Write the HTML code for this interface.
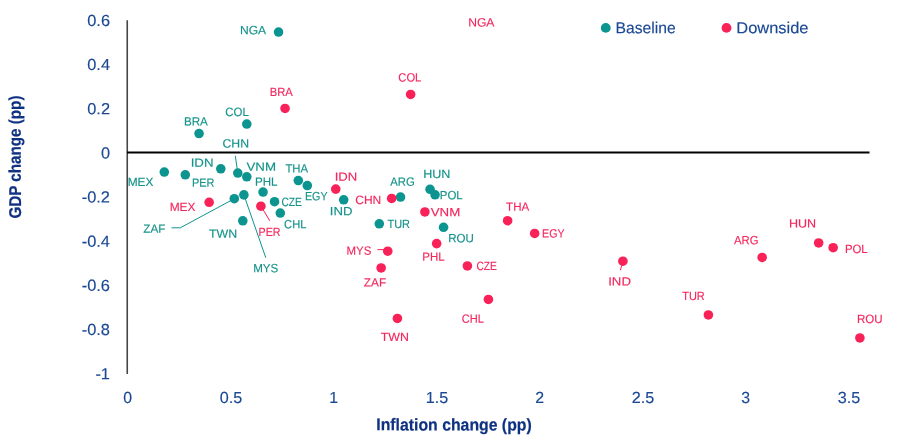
<!DOCTYPE html>
<html lang="en">
<head>
<meta charset="utf-8">
<title>GDP change vs Inflation change</title>
<style>
html,body{margin:0;padding:0;background:#fff;}
body{width:907px;height:448px;overflow:hidden;}
svg{display:block;font-family:"Liberation Sans",sans-serif;}
.lb{font-size:12.0px;stroke-width:0.15px;}
.tk{font-size:16.0px;fill:#1A4893;stroke:#1A4893;stroke-width:0.15px;}
.ti{font-size:17px;font-weight:bold;fill:#0E3181;stroke:#0E3181;stroke-width:0.2px;}
.lg{font-size:16px;fill:#1A4893;stroke:#1A4893;stroke-width:0.15px;}
</style>
</head>
<body>
<svg width="907" height="448" viewBox="0 0 907 448">
<rect width="907" height="448" fill="#ffffff"/>

<line x1="127.25" y1="20.2" x2="127.25" y2="373.9" stroke="#454545" stroke-width="1.6"/>
<line x1="127" y1="152.45" x2="869.5" y2="152.45" stroke="#000" stroke-width="1.9"/>
<text class="tk" x="87.25" y="25.92" textLength="22.75" lengthAdjust="spacingAndGlyphs" transform="rotate(0.06 98.6 21.9)">0.6</text>
<text class="tk" x="87.25" y="70.08" textLength="22.75" lengthAdjust="spacingAndGlyphs" transform="rotate(0.06 98.6 66.1)">0.4</text>
<text class="tk" x="87.25" y="114.24" textLength="22.75" lengthAdjust="spacingAndGlyphs" transform="rotate(0.06 98.6 110.2)">0.2</text>
<text class="tk" x="100.90" y="158.40" textLength="9.10" lengthAdjust="spacingAndGlyphs" transform="rotate(0.06 105.5 154.4)">0</text>
<text class="tk" x="81.75" y="202.56" textLength="28.25" lengthAdjust="spacingAndGlyphs" transform="rotate(0.06 95.9 198.6)">-0.2</text>
<text class="tk" x="81.75" y="246.72" textLength="28.25" lengthAdjust="spacingAndGlyphs" transform="rotate(0.06 95.9 242.7)">-0.4</text>
<text class="tk" x="81.75" y="290.88" textLength="28.25" lengthAdjust="spacingAndGlyphs" transform="rotate(0.06 95.9 286.9)">-0.6</text>
<text class="tk" x="81.75" y="335.04" textLength="28.25" lengthAdjust="spacingAndGlyphs" transform="rotate(0.06 95.9 331.0)">-0.8</text>
<text class="tk" x="95.40" y="379.20" textLength="14.60" lengthAdjust="spacingAndGlyphs" transform="rotate(0.06 102.7 375.2)">-1</text>
<text class="tk" x="123.30" y="403.10" textLength="8.80" lengthAdjust="spacingAndGlyphs" transform="rotate(0.06 127.7 399.1)">0</text>
<text class="tk" x="219.78" y="403.10" textLength="22.45" lengthAdjust="spacingAndGlyphs" transform="rotate(0.06 231.0 399.1)">0.5</text>
<text class="tk" x="329.30" y="403.10" textLength="8.80" lengthAdjust="spacingAndGlyphs" transform="rotate(0.06 333.7 399.1)">1</text>
<text class="tk" x="425.77" y="403.10" textLength="22.45" lengthAdjust="spacingAndGlyphs" transform="rotate(0.06 437.0 399.1)">1.5</text>
<text class="tk" x="535.30" y="403.10" textLength="8.80" lengthAdjust="spacingAndGlyphs" transform="rotate(0.06 539.7 399.1)">2</text>
<text class="tk" x="631.77" y="403.10" textLength="22.45" lengthAdjust="spacingAndGlyphs" transform="rotate(0.06 643.0 399.1)">2.5</text>
<text class="tk" x="741.30" y="403.10" textLength="8.80" lengthAdjust="spacingAndGlyphs" transform="rotate(0.06 745.7 399.1)">3</text>
<text class="tk" x="837.77" y="403.10" textLength="22.45" lengthAdjust="spacingAndGlyphs" transform="rotate(0.06 849.0 399.1)">3.5</text>
<text class="ti" x="376.32" y="430.45" textLength="155.39" lengthAdjust="spacingAndGlyphs" transform="rotate(0.06 454.0 426.4)">Inflation change (pp)</text>
<text class="ti" transform="translate(20.9,218.50) rotate(-90.06)" x="-0.09" y="0" textLength="123.03" lengthAdjust="spacingAndGlyphs">GDP change (pp)</text>
<circle cx="605.75" cy="27.9" r="4.9" fill="#0C9590"/>
<text class="lg" x="615.60" y="33.30" textLength="60.04" lengthAdjust="spacingAndGlyphs" transform="rotate(0.06 645.6 29.3)">Baseline</text>
<circle cx="726.5" cy="27.9" r="4.9" fill="#F82158"/>
<text class="lg" x="736.33" y="33.30" textLength="72.18" lengthAdjust="spacingAndGlyphs" transform="rotate(0.06 772.4 29.3)">Downside</text>
<path d="M171.55 227.80 L180.30 227.80 L234.30 198.70" fill="none" stroke="#0C9590" stroke-width="1.0"/>
<path d="M243.90 194.90 L265.80 257.80" fill="none" stroke="#0C9590" stroke-width="1.0"/>
<path d="M235.30 155.80 L237.80 173.05" fill="none" stroke="#0C9590" stroke-width="1.0"/>
<path d="M261.05 206.30 L269.80 220.80" fill="none" stroke="#F82158" stroke-width="1.0"/>
<path d="M377.50 249.65 L385.30 249.65" fill="none" stroke="#F82158" stroke-width="1.0"/>
<path d="M623.05 261.30 L620.30 270.30" fill="none" stroke="#F82158" stroke-width="1.0"/>
<circle cx="278.55" cy="32.05" r="4.80" fill="#0C9590"/>
<circle cx="199.05" cy="133.55" r="4.80" fill="#0C9590"/>
<circle cx="246.80" cy="124.05" r="4.80" fill="#0C9590"/>
<circle cx="164.30" cy="172.05" r="4.80" fill="#0C9590"/>
<circle cx="185.30" cy="174.80" r="4.80" fill="#0C9590"/>
<circle cx="220.80" cy="168.80" r="4.80" fill="#0C9590"/>
<circle cx="237.80" cy="173.05" r="4.80" fill="#0C9590"/>
<circle cx="246.80" cy="176.80" r="4.80" fill="#0C9590"/>
<circle cx="298.30" cy="180.55" r="4.80" fill="#0C9590"/>
<circle cx="307.30" cy="185.55" r="4.80" fill="#0C9590"/>
<circle cx="263.05" cy="192.05" r="4.80" fill="#0C9590"/>
<circle cx="243.90" cy="194.90" r="4.80" fill="#0C9590"/>
<circle cx="234.30" cy="198.70" r="4.80" fill="#0C9590"/>
<circle cx="274.55" cy="201.70" r="4.80" fill="#0C9590"/>
<circle cx="280.30" cy="213.05" r="4.80" fill="#0C9590"/>
<circle cx="242.80" cy="220.80" r="4.80" fill="#0C9590"/>
<circle cx="343.70" cy="199.80" r="4.80" fill="#0C9590"/>
<circle cx="400.55" cy="197.05" r="4.80" fill="#0C9590"/>
<circle cx="430.05" cy="189.30" r="4.80" fill="#0C9590"/>
<circle cx="435.05" cy="194.80" r="4.80" fill="#0C9590"/>
<circle cx="379.30" cy="223.80" r="4.80" fill="#0C9590"/>
<circle cx="443.55" cy="227.30" r="4.80" fill="#0C9590"/>
<circle cx="285.05" cy="108.45" r="4.80" fill="#F82158"/>
<circle cx="410.65" cy="94.45" r="4.80" fill="#F82158"/>
<circle cx="209.15" cy="202.30" r="4.80" fill="#F82158"/>
<circle cx="260.90" cy="206.20" r="4.80" fill="#F82158"/>
<circle cx="335.75" cy="189.10" r="4.80" fill="#F82158"/>
<circle cx="391.65" cy="198.45" r="4.80" fill="#F82158"/>
<circle cx="424.90" cy="211.95" r="4.80" fill="#F82158"/>
<circle cx="507.65" cy="220.70" r="4.80" fill="#F82158"/>
<circle cx="387.75" cy="251.20" r="4.80" fill="#F82158"/>
<circle cx="381.15" cy="267.95" r="4.80" fill="#F82158"/>
<circle cx="436.65" cy="243.60" r="4.80" fill="#F82158"/>
<circle cx="467.40" cy="265.95" r="4.80" fill="#F82158"/>
<circle cx="488.40" cy="299.45" r="4.80" fill="#F82158"/>
<circle cx="397.40" cy="318.45" r="4.80" fill="#F82158"/>
<circle cx="534.65" cy="233.45" r="4.80" fill="#F82158"/>
<circle cx="622.90" cy="261.20" r="4.80" fill="#F82158"/>
<circle cx="762.15" cy="257.45" r="4.80" fill="#F82158"/>
<circle cx="818.65" cy="242.95" r="4.80" fill="#F82158"/>
<circle cx="833.15" cy="247.70" r="4.80" fill="#F82158"/>
<circle cx="708.40" cy="314.95" r="4.80" fill="#F82158"/>
<circle cx="859.90" cy="337.95" r="4.80" fill="#F82158"/>
<text class="lb" x="239.94" y="34.20" textLength="26.25" lengthAdjust="spacingAndGlyphs" transform="rotate(0.06 253.1 30.2)" fill="#14938A" stroke="#14938A">NGA</text>
<text class="lb" x="225.34" y="115.95" textLength="23.50" lengthAdjust="spacingAndGlyphs" transform="rotate(0.06 237.1 112.0)" fill="#14938A" stroke="#14938A">COL</text>
<text class="lb" x="183.98" y="125.45" textLength="23.86" lengthAdjust="spacingAndGlyphs" transform="rotate(0.06 195.9 121.5)" fill="#14938A" stroke="#14938A">BRA</text>
<text class="lb" x="222.54" y="147.45" textLength="26.51" lengthAdjust="spacingAndGlyphs" transform="rotate(0.06 235.8 143.4)" fill="#14938A" stroke="#14938A">CHN</text>
<text class="lb" x="190.70" y="166.70" textLength="22.86" lengthAdjust="spacingAndGlyphs" transform="rotate(0.06 202.1 162.7)" fill="#14938A" stroke="#14938A">IDN</text>
<text class="lb" x="246.42" y="170.70" textLength="29.56" lengthAdjust="spacingAndGlyphs" transform="rotate(0.06 261.2 166.7)" fill="#14938A" stroke="#14938A">VNM</text>
<text class="lb" x="285.43" y="172.45" textLength="22.73" lengthAdjust="spacingAndGlyphs" transform="rotate(0.06 296.8 168.4)" fill="#14938A" stroke="#14938A">THA</text>
<text class="lb" x="127.71" y="185.95" textLength="25.83" lengthAdjust="spacingAndGlyphs" transform="rotate(0.06 140.6 181.9)" fill="#14938A" stroke="#14938A">MEX</text>
<text class="lb" x="192.04" y="186.70" textLength="22.46" lengthAdjust="spacingAndGlyphs" transform="rotate(0.06 203.3 182.7)" fill="#14938A" stroke="#14938A">PER</text>
<text class="lb" x="254.98" y="185.70" textLength="22.55" lengthAdjust="spacingAndGlyphs" transform="rotate(0.06 266.3 181.7)" fill="#14938A" stroke="#14938A">PHL</text>
<text class="lb" x="281.40" y="205.95" textLength="20.50" lengthAdjust="spacingAndGlyphs" transform="rotate(0.06 291.6 201.9)" fill="#14938A" stroke="#14938A">CZE</text>
<text class="lb" x="304.96" y="200.30" textLength="22.60" lengthAdjust="spacingAndGlyphs" transform="rotate(0.06 316.3 196.3)" fill="#14938A" stroke="#14938A">EGY</text>
<text class="lb" x="329.81" y="215.30" textLength="22.63" lengthAdjust="spacingAndGlyphs" transform="rotate(0.06 341.1 211.3)" fill="#14938A" stroke="#14938A">IND</text>
<text class="lb" x="143.32" y="232.70" textLength="22.03" lengthAdjust="spacingAndGlyphs" transform="rotate(0.06 154.3 228.7)" fill="#14938A" stroke="#14938A">ZAF</text>
<text class="lb" x="208.91" y="237.70" textLength="28.22" lengthAdjust="spacingAndGlyphs" transform="rotate(0.06 223.0 233.7)" fill="#14938A" stroke="#14938A">TWN</text>
<text class="lb" x="253.24" y="272.20" textLength="25.06" lengthAdjust="spacingAndGlyphs" transform="rotate(0.06 265.8 268.2)" fill="#14938A" stroke="#14938A">MYS</text>
<text class="lb" x="284.10" y="228.20" textLength="22.31" lengthAdjust="spacingAndGlyphs" transform="rotate(0.06 295.3 224.2)" fill="#14938A" stroke="#14938A">CHL</text>
<text class="lb" x="390.22" y="185.70" textLength="24.50" lengthAdjust="spacingAndGlyphs" transform="rotate(0.06 402.5 181.7)" fill="#14938A" stroke="#14938A">ARG</text>
<text class="lb" x="423.15" y="177.95" textLength="27.17" lengthAdjust="spacingAndGlyphs" transform="rotate(0.06 436.7 173.9)" fill="#14938A" stroke="#14938A">HUN</text>
<text class="lb" x="439.75" y="199.20" textLength="22.93" lengthAdjust="spacingAndGlyphs" transform="rotate(0.06 451.2 195.2)" fill="#14938A" stroke="#14938A">POL</text>
<text class="lb" x="387.44" y="227.95" textLength="22.55" lengthAdjust="spacingAndGlyphs" transform="rotate(0.06 398.7 223.9)" fill="#14938A" stroke="#14938A">TUR</text>
<text class="lb" x="448.24" y="242.20" textLength="25.63" lengthAdjust="spacingAndGlyphs" transform="rotate(0.06 461.1 238.2)" fill="#14938A" stroke="#14938A">ROU</text>
<text class="lb" x="468.19" y="26.45" textLength="26.25" lengthAdjust="spacingAndGlyphs" transform="rotate(0.06 481.3 22.4)" fill="#F3285E" stroke="#F3285E">NGA</text>
<text class="lb" x="398.35" y="81.45" textLength="22.98" lengthAdjust="spacingAndGlyphs" transform="rotate(0.06 409.8 77.5)" fill="#F3285E" stroke="#F3285E">COL</text>
<text class="lb" x="269.77" y="95.95" textLength="23.08" lengthAdjust="spacingAndGlyphs" transform="rotate(0.06 281.3 92.0)" fill="#F3285E" stroke="#F3285E">BRA</text>
<text class="lb" x="169.71" y="210.95" textLength="25.83" lengthAdjust="spacingAndGlyphs" transform="rotate(0.06 182.6 206.9)" fill="#F3285E" stroke="#F3285E">MEX</text>
<text class="lb" x="258.56" y="235.95" textLength="21.92" lengthAdjust="spacingAndGlyphs" transform="rotate(0.06 269.5 231.9)" fill="#F3285E" stroke="#F3285E">PER</text>
<text class="lb" x="334.71" y="180.70" textLength="22.58" lengthAdjust="spacingAndGlyphs" transform="rotate(0.06 346.0 176.7)" fill="#F3285E" stroke="#F3285E">IDN</text>
<text class="lb" x="355.31" y="203.95" textLength="25.97" lengthAdjust="spacingAndGlyphs" transform="rotate(0.06 368.3 199.9)" fill="#F3285E" stroke="#F3285E">CHN</text>
<text class="lb" x="430.67" y="216.20" textLength="29.56" lengthAdjust="spacingAndGlyphs" transform="rotate(0.06 445.4 212.2)" fill="#F3285E" stroke="#F3285E">VNM</text>
<text class="lb" x="506.08" y="210.70" textLength="23.09" lengthAdjust="spacingAndGlyphs" transform="rotate(0.06 517.6 206.7)" fill="#F3285E" stroke="#F3285E">THA</text>
<text class="lb" x="346.50" y="254.70" textLength="24.79" lengthAdjust="spacingAndGlyphs" transform="rotate(0.06 358.9 250.7)" fill="#F3285E" stroke="#F3285E">MYS</text>
<text class="lb" x="363.82" y="286.45" textLength="22.29" lengthAdjust="spacingAndGlyphs" transform="rotate(0.06 375.0 282.4)" fill="#F3285E" stroke="#F3285E">ZAF</text>
<text class="lb" x="422.25" y="260.70" textLength="22.28" lengthAdjust="spacingAndGlyphs" transform="rotate(0.06 433.4 256.7)" fill="#F3285E" stroke="#F3285E">PHL</text>
<text class="lb" x="476.40" y="269.95" textLength="20.50" lengthAdjust="spacingAndGlyphs" transform="rotate(0.06 486.6 265.9)" fill="#F3285E" stroke="#F3285E">CZE</text>
<text class="lb" x="461.86" y="322.70" textLength="22.04" lengthAdjust="spacingAndGlyphs" transform="rotate(0.06 472.9 318.7)" fill="#F3285E" stroke="#F3285E">CHL</text>
<text class="lb" x="380.66" y="340.95" textLength="28.22" lengthAdjust="spacingAndGlyphs" transform="rotate(0.06 394.8 336.9)" fill="#F3285E" stroke="#F3285E">TWN</text>
<text class="lb" x="542.06" y="237.45" textLength="22.49" lengthAdjust="spacingAndGlyphs" transform="rotate(0.06 553.3 233.4)" fill="#F3285E" stroke="#F3285E">EGY</text>
<text class="lb" x="608.20" y="285.45" textLength="22.74" lengthAdjust="spacingAndGlyphs" transform="rotate(0.06 619.6 281.4)" fill="#F3285E" stroke="#F3285E">IND</text>
<text class="lb" x="733.97" y="244.20" textLength="24.50" lengthAdjust="spacingAndGlyphs" transform="rotate(0.06 746.2 240.2)" fill="#F3285E" stroke="#F3285E">ARG</text>
<text class="lb" x="788.90" y="227.45" textLength="27.17" lengthAdjust="spacingAndGlyphs" transform="rotate(0.06 802.5 223.4)" fill="#F3285E" stroke="#F3285E">HUN</text>
<text class="lb" x="845.01" y="252.95" textLength="22.66" lengthAdjust="spacingAndGlyphs" transform="rotate(0.06 856.3 248.9)" fill="#F3285E" stroke="#F3285E">POL</text>
<text class="lb" x="682.19" y="299.95" textLength="22.55" lengthAdjust="spacingAndGlyphs" transform="rotate(0.06 693.5 295.9)" fill="#F3285E" stroke="#F3285E">TUR</text>
<text class="lb" x="856.99" y="322.95" textLength="25.63" lengthAdjust="spacingAndGlyphs" transform="rotate(0.06 869.8 318.9)" fill="#F3285E" stroke="#F3285E">ROU</text>
</svg>
</body>
</html>
